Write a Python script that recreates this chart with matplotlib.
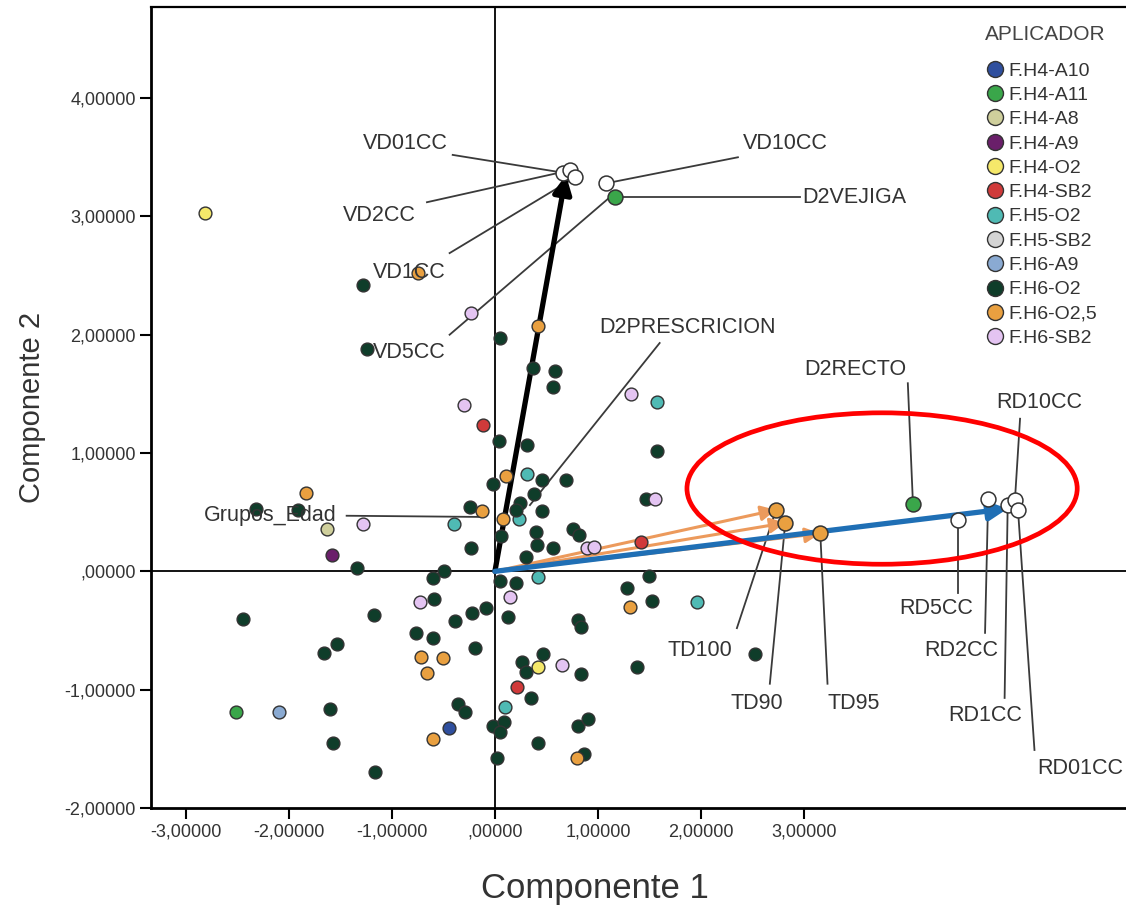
import matplotlib
matplotlib.use("Agg")
import matplotlib.pyplot as plt
from matplotlib.patches import Ellipse
from matplotlib.lines import Line2D

plt.rcParams['font.family'] = ['Liberation Sans', 'DejaVu Sans']

# ---- case scores by applicator group (Componente 1, Componente 2) ----
groups = ["F.H4-A10", "F.H4-A11", "F.H4-A8", "F.H4-A9", "F.H4-O2", "F.H4-SB2",
          "F.H5-O2", "F.H5-SB2", "F.H6-A9", "F.H6-O2", "F.H6-O2,5", "F.H6-SB2"]
group_colors = ["#2f4f9e", "#3aa64a", "#cfcf9c", "#6a1f6a", "#f5e86a", "#d03a3a",
                "#4fbab4", "#d4d4d4", "#8aaad2", "#0f3d2a", "#e9a040", "#e4c4f2"]

h4_a10_x = [-0.45]
h4_a10_y = [-1.32]
h4_a11_x = [-2.51]
h4_a11_y = [-1.19]
h4_a8_x = [-1.63]
h4_a8_y = [0.36]
h4_a9_x = [-1.58]
h4_a9_y = [0.14]
h4_o2_x = [-2.82, 0.42]
h4_o2_y = [3.03, -0.81]
h4_sb2_x = [-0.12, 1.42, 0.21]
h4_sb2_y = [1.24, 0.25, -0.98]
h5_o2_x = [1.57, 0.31, 0.23, -0.40, 0.42, 1.96, 0.10]
h5_o2_y = [1.43, 0.82, 0.44, 0.40, -0.05, -0.26, -1.15]
h5_sb2_x = []
h5_sb2_y = []
h6_a9_x = [-2.10]
h6_a9_y = [-1.19]
h6_o2_x = [-1.28, -1.24, 0.05, 0.37, 0.58, 0.56, 0.04, 0.31, 1.57, -0.02,
           0.46, 0.69, 0.38, -0.24, 0.24, 0.20, 0.46, 0.06, 0.40, 0.41,
           0.56, 0.76, 0.82, -0.23, 0.30, 1.47, -0.49, 0.05, 0.20, 1.28,
           1.50, -2.32, -1.91, -1.34, -0.60, -2.45, -1.17, -0.59, -1.66, -1.53,
           -0.77, -0.60, -0.39, -0.22, -0.09, -0.19, 0.13, -1.60, -1.57, -1.16,
           -0.36, -0.29, -0.02, 0.09, 0.02, 0.26, 0.30, 0.35, 0.47, 0.42,
           0.81, 0.84, 1.53, 2.53, 0.84, 1.38, 0.05, 0.81, 0.90, 0.87]
h6_o2_y = [2.42, 1.88, 1.97, 1.72, 1.69, 1.56, 1.10, 1.07, 1.02, 0.74,
           0.77, 0.77, 0.65, 0.54, 0.58, 0.52, 0.51, 0.30, 0.33, 0.22,
           0.20, 0.36, 0.31, 0.20, 0.12, 0.61, 0.00, -0.08, -0.10, -0.14,
           -0.04, 0.53, 0.52, 0.03, -0.06, -0.40, -0.37, -0.23, -0.69, -0.61,
           -0.52, -0.56, -0.42, -0.35, -0.31, -0.65, -0.39, -1.16, -1.45, -1.70,
           -1.12, -1.19, -1.31, -1.27, -1.58, -0.77, -0.85, -1.07, -0.70, -1.45,
           -0.41, -0.47, -0.25, -0.70, -0.87, -0.81, -1.36, -1.31, -1.25, -1.54]
h6_o25_x = [0.42, -0.75, 0.11, -0.13, 0.08, -1.83, -0.72, -0.50, -0.66, -0.60, 1.31, 0.80]
h6_o25_y = [2.07, 2.52, 0.81, 0.51, 0.44, 0.66, -0.72, -0.73, -0.86, -1.42, -0.30, -1.58]
h6_sb2_x = [-0.30, 1.32, 1.55, 0.89, 0.96, 0.15, -1.28, -0.73, 0.65, -0.23]
h6_sb2_y = [1.41, 1.50, 0.61, 0.20, 0.21, -0.22, 0.40, -0.26, -0.79, 2.18]

group_x = [h4_a10_x, h4_a11_x, h4_a8_x, h4_a9_x, h4_o2_x, h4_sb2_x,
           h5_o2_x, h5_sb2_x, h6_a9_x, h6_o2_x, h6_o25_x, h6_sb2_x]
group_y = [h4_a10_y, h4_a11_y, h4_a8_y, h4_a9_y, h4_o2_y, h4_sb2_y,
           h5_o2_y, h5_sb2_y, h6_a9_y, h6_o2_y, h6_o25_y, h6_sb2_y]

# ---- variable loadings ----
var_names = ["VD01CC", "VD2CC", "VD1CC", "VD5CC", "VD10CC", "D2VEJIGA", "D2PRESCRICION",
             "Grupos_Edad", "TD100", "TD90", "TD95", "D2RECTO",
             "RD5CC", "RD2CC", "RD1CC", "RD10CC", "RD01CC"]
var_x = [0.66, 0.73, 0.78, 1.10, 1.08, 1.17, 0.34, -0.15, 2.73, 2.82, 3.16, 4.06,
         4.50, 4.79, 4.98, 5.05, 5.08]
var_y = [3.37, 3.39, 3.33, 3.15, 3.28, 3.16, 0.56, 0.46, 0.52, 0.41, 0.32, 0.57,
         0.43, 0.61, 0.56, 0.60, 0.52]
# how each loading point is drawn
var_fill = ["white", "white", "white", None, "white", "#3aa64a", None, None,
            "#e9a040", "#e9a040", "#e9a040", "#3aa64a",
            "white", "white", "white", "white", "white"]

# label placement (text centre, leader start)
label_pos = {
    "VD01CC": (-0.87, 3.62, -0.41, 3.52),
    "VD2CC": (-1.12, 3.01, -0.66, 3.12),
    "VD1CC": (-0.83, 2.53, -0.44, 2.69),
    "VD5CC": (-0.83, 1.85, -0.44, 2.00),
    "VD10CC": (2.82, 3.62, 2.36, 3.50),
    "D2VEJIGA": (3.50, 3.16, 2.96, 3.16),
    "D2PRESCRICION": (1.87, 2.06, 1.60, 1.93),
    "Grupos_Edad": (-2.18, 0.47, -1.44, 0.47),
    "TD100": (1.99, -0.67, 2.35, -0.48),
    "TD90": (2.54, -1.12, 2.67, -0.95),
    "TD95": (3.48, -1.12, 3.23, -0.95),
    "D2RECTO": (3.50, 1.71, 4.01, 1.59),
    "RD5CC": (4.29, -0.31, 4.50, -0.18),
    "RD2CC": (4.53, -0.67, 4.76, -0.52),
    "RD1CC": (4.76, -1.22, 4.95, -1.07),
    "RD10CC": (5.29, 1.43, 5.10, 1.29),
    "RD01CC": (5.68, -1.67, 5.24, -1.51),
}

# arrows: (end x, end y, colour, width)
arrows = [
    (0.69, 3.35, "black", 3.8),
    (2.73, 0.52, "#ec9a5c", 2.2),
    (2.82, 0.41, "#ec9a5c", 2.2),
    (3.16, 0.32, "#ec9a5c", 2.2),
    (4.98, 0.53, "#1f6fb5", 3.8),
]

fig = plt.figure(figsize=(11.26, 9.11), dpi=100)
ax = fig.add_axes([0.1341, 0.1131, 0.866, 0.8792])
ax.set_xlim(-3.34, 6.13)
ax.set_ylim(-2.0, 4.77)

ax.axhline(0, color="black", lw=1.3, zorder=1)
ax.axvline(0, color="black", lw=1.3, zorder=1)

# leader lines
for name, vx, vy in zip(var_names, var_x, var_y):
    tx, ty, lx, ly = label_pos[name]
    ax.plot([lx, vx], [ly, vy], color="#3a3a3a", lw=1.3, zorder=2)
    if name == "D2VEJIGA":
        ax.text(2.98, ty, name, fontsize=15.5, color="#333333", ha="left", va="center", zorder=6)
    else:
        ax.text(tx, ty, name, fontsize=15.5, color="#333333", ha="center", va="center", zorder=6)

# arrows
for ex, ey, col, w in arrows:
    ax.annotate("", xy=(ex, ey), xytext=(0, 0),
                arrowprops=dict(arrowstyle="-|>", color=col, lw=w,
                                mutation_scale=16 + 3 * w, shrinkA=0, shrinkB=0),
                zorder=3)

# case points
for name, col, xs, ys in zip(groups, group_colors, group_x, group_y):
    ax.scatter(xs, ys, s=85, c=col, edgecolors="#333333", linewidths=1.0, zorder=4)

# loading points
for vx, vy, f in zip(var_x, var_y, var_fill):
    if f is None:
        continue
    ax.scatter([vx], [vy], s=115, c=f, edgecolors="#333333", linewidths=1.1, zorder=5)

# red highlight ellipse
ax.add_patch(Ellipse((3.76, 0.70), 3.79, 1.28, fill=False, edgecolor="#ff0000",
                     lw=3.4, zorder=7))

# axes styling
ax.spines["right"].set_visible(False)
ax.spines["top"].set_linewidth(1.6)
ax.spines["left"].set_linewidth(2.0)
ax.spines["bottom"].set_linewidth(2.0)

def fmt(v):
    s = f"{abs(v):.5f}".replace(".", ",")
    if s.startswith("0"):
        s = s[1:]
    return ("-" if v < 0 else "") + s

xt = [-3, -2, -1, 0, 1, 2, 3]
yt = [-2, -1, 0, 1, 2, 3, 4]
ax.set_xticks(xt)
ax.set_xticklabels([fmt(v) for v in xt], fontsize=13, color="#333333")
ax.set_yticks(yt)
ax.set_yticklabels([fmt(v) for v in yt], fontsize=13, color="#333333")
ax.tick_params(direction="out", length=8, width=1.5, pad=3)

ax.set_xlabel("Componente 1", fontsize=25, color="#333333")
ax.xaxis.label.set_va("center")
ax.xaxis.set_label_coords(0.455, -0.10)
ax.set_ylabel("Componente 2", fontsize=21, color="#333333")
ax.yaxis.label.set_va("center")
ax.yaxis.set_label_coords(-0.122, 0.5)

# legend
fig.text(1045 / 1126, 1 - 35 / 911, "APLICADOR", fontsize=15, color="#444444",
         ha="center", va="center")
handles = [Line2D([0], [0], marker="o", linestyle="", markersize=11.5,
                  markerfacecolor=c, markeredgecolor="#333333", markeredgewidth=1.0)
           for c in group_colors]
leg = fig.legend(handles, groups, loc="upper left",
                 bbox_to_anchor=(981 / 1126, 1 - 60 / 911), frameon=False, fontsize=14,
                 handletextpad=0.1, labelspacing=0.345,
                 borderpad=0.1, borderaxespad=0, handlelength=1.2)
for t in leg.get_texts():
    t.set_color("#333333")

plt.savefig("out.png", dpi=100)
